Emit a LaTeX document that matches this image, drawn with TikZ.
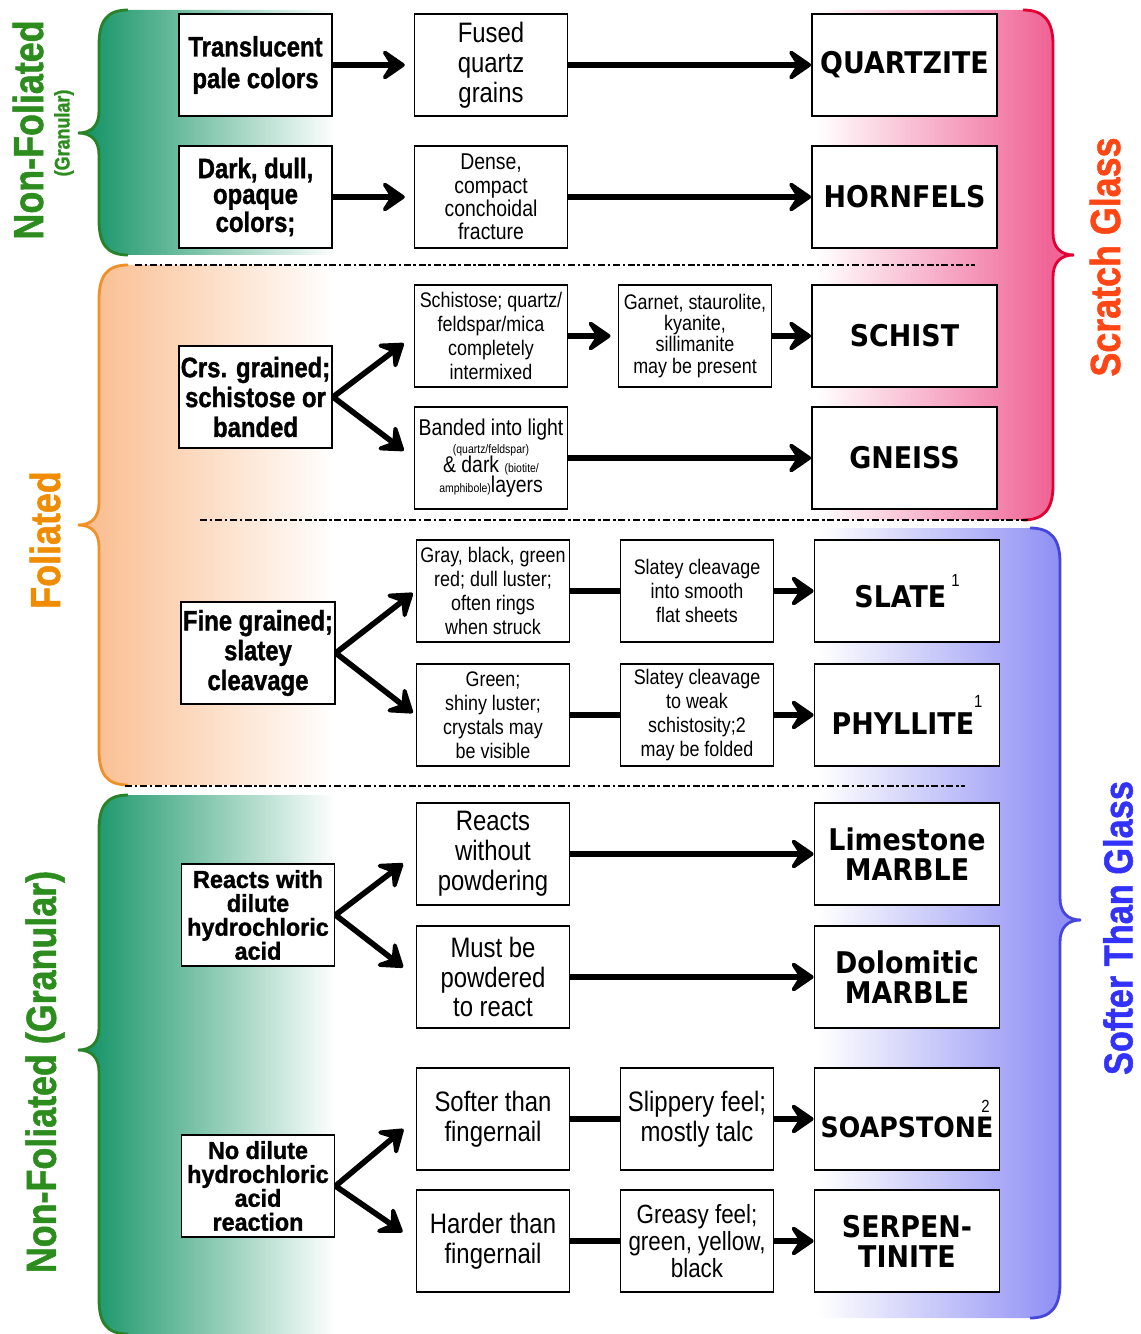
\documentclass[tikz,border=0pt]{standalone}
\usepackage{fontspec}
\setmainfont{Liberation Sans}
\newfontfamily\narrowfont{Liberation Sans}[FakeStretch=0.85]
\newfontfamily\heavyfont{Liberation Sans}[FakeStretch=0.85, FakeBold=1.2]
\newfontfamily\wideheavyfont{Liberation Sans}[FakeStretch=0.95, FakeBold=1.2]
\newfontfamily\rockfont{DejaVu Sans}[FakeStretch=0.9]
\usetikzlibrary{arrows.meta, positioning}
\definecolor{nfgreen}{RGB}{25,150,105}
\definecolor{nfdark}{RGB}{40,130,40}
\definecolor{nftext}{RGB}{45,140,30}
\definecolor{folorange}{RGB}{250,190,145}
\definecolor{foldark}{RGB}{240,145,40}
\definecolor{foltext}{RGB}{240,140,0}
\definecolor{scpink}{RGB}{240,100,150}
\definecolor{scdark}{RGB}{225,0,50}
\definecolor{sctext}{RGB}{255,70,20}
\definecolor{sfblue}{RGB}{145,145,245}
\definecolor{sfdark}{RGB}{70,70,220}
\definecolor{sftext}{RGB}{50,50,250}

% fades that reach white (or colour) before the panel edge
\pgfdeclarehorizontalshading{nfshade}{100bp}{color(0bp)=(nfgreen); color(27bp)=(nfgreen); color(65bp)=(white); color(100bp)=(white)}
\pgfdeclarehorizontalshading{folshade}{100bp}{color(0bp)=(folorange); color(27bp)=(folorange); color(65bp)=(white); color(100bp)=(white)}
\pgfdeclarehorizontalshading{scshade}{100bp}{color(0bp)=(white); color(34bp)=(white); color(71bp)=(scpink); color(100bp)=(scpink)}
\pgfdeclarehorizontalshading{sfshade}{100bp}{color(0bp)=(white); color(34bp)=(white); color(71bp)=(sfblue); color(100bp)=(sfblue)}

% brace-shaped shaded panels: shading, edge colour, top, tip, bottom
\newcommand{\leftpanel}[5]{%
  \shade[shading=#1] (400,#3) -- (128,#3) .. controls (106,#3) and (99,#3+12) .. (99,#3+35) -- (99,#4-22) .. controls (99,#4-8) and (92,#4) .. (78,#4) .. controls (92,#4) and (99,#4+8) .. (99,#4+22) -- (99,#5-35) .. controls (99,#5-12) and (106,#5) .. (128,#5) -- (400,#5) -- cycle;
  \draw[#2, line width=1.6pt] (128,#3) .. controls (106,#3) and (99,#3+12) .. (99,#3+35) -- (99,#4-22) .. controls (99,#4-8) and (92,#4) .. (78,#4) .. controls (92,#4) and (99,#4+8) .. (99,#4+22) -- (99,#5-35) .. controls (99,#5-12) and (106,#5) .. (128,#5);}
% same on the right: shading, edge colour, top, tip, bottom, brace x
\newcommand{\rightpanel}[6]{%
  \shade[shading=#1] (760,#3) -- (#6-30,#3) .. controls (#6-8,#3) and (#6,#3+12) .. (#6,#3+35) -- (#6,#4-22) .. controls (#6,#4-8) and (#6+7,#4) .. (#6+21,#4) .. controls (#6+7,#4) and (#6,#4+8) .. (#6,#4+22) -- (#6,#5-35) .. controls (#6,#5-12) and (#6-8,#5) .. (#6-30,#5) -- (760,#5) -- cycle;
  \draw[#2, line width=1.6pt] (#6-30,#3) .. controls (#6-8,#3) and (#6,#3+12) .. (#6,#3+35) -- (#6,#4-22) .. controls (#6,#4-8) and (#6+7,#4) .. (#6+21,#4) .. controls (#6+7,#4) and (#6,#4+8) .. (#6,#4+22) -- (#6,#5-35) .. controls (#6,#5-12) and (#6-8,#5) .. (#6-30,#5);}
\newcommand{\supnum}[2]{\raisebox{#1}{\narrowfont\mdseries\fontsize{10}{10}\selectfont #2}}

\begin{document}
\begin{tikzpicture}[x=0.02cm, y=-0.02cm,
    crit/.style={draw, line width=1.1pt, fill=white, minimum width=3.06cm, minimum height=2.04cm, inner sep=1pt, align=center, font=\heavyfont\bfseries\fontsize{16}{17}\selectfont},
    tightcrit/.style={crit, font=\wideheavyfont\bfseries\fontsize{14}{13.6}\selectfont},
    desc/.style={draw, line width=1.1pt, fill=white, minimum width=3.06cm, minimum height=2.04cm, inner sep=1pt, align=center, font=\narrowfont\fontsize{12}{13.6}\selectfont},
    bigtext/.style={font=\narrowfont\fontsize{16}{17}\selectfont},
    rock/.style={draw, line width=1.1pt, fill=white, minimum width=3.7cm, minimum height=2.04cm, inner sep=1pt, align=center, font=\rockfont\bfseries\fontsize{17}{17}\selectfont},
    side/.style={rotate=90, inner sep=0pt, font=\heavyfont\bfseries\fontsize{24}{24}\selectfont},
    arr/.style={line width=3.2pt, -{Stealth[length=16pt, width=22pt, inset=7pt, round]}},
    link/.style={line width=3.2pt},
    sep/.style={line width=1.4pt, dash pattern=on 4pt off 1.5pt on 1.5pt off 1.5pt}]
    \useasboundingbox (0,0) rectangle (1140,1334);

    % Shaded panels
    \leftpanel{nfshade}{nfdark}{10}{133}{255}
    \leftpanel{folshade}{foldark}{265}{525}{785}
    \leftpanel{nfshade}{nfdark}{795}{1050}{1334}
    \rightpanel{scshade}{scdark}{10}{255}{520}{1053}
    \rightpanel{sfshade}{sfdark}{528}{920}{1318}{1060}

    % Separators
    \draw[sep] (135,265) -- (975,265);
    \draw[sep] (200,520) -- (1030,520);
    \draw[sep] (125,786) -- (965,786);

    % Side labels
    \node[side, nftext] (nonfol) at (28,130) {Non-Foliated};
    \node[side, nftext, font=\heavyfont\bfseries\fontsize{12}{12}\selectfont] (granular) at (64,133) {(Granular)};
    \node[side, foltext] (foliated) at (45,540) {Foliated};
    \node[side, nftext] (nonfolgran) at (45,1072) {Non-Foliated (Granular)};
    \node[side, sctext] (scratch) at (1105,257) {Scratch Glass};
    \node[side, sftext, font=\heavyfont\bfseries\fontsize{23}{23}\selectfont] (softer) at (1118,928) {Softer Than Glass};

    % Non-foliated, top
    \node[crit, font=\heavyfont\bfseries\fontsize{16}{18}\selectfont] (transl) at (255.5,65) {Translucent\\pale colors};
    \node[desc, bigtext] (fused) at (491,65) {Fused\\quartz\\grains};
    \node[rock] (quartzite) at (904.5,65) {QUARTZITE};
    \node[crit, font=\heavyfont\bfseries\fontsize{16}{14.7}\selectfont] (dark) at (255.5,197) {Dark, dull,\\opaque\\colors;};
    \node[desc, font=\narrowfont\fontsize{13}{13.3}\selectfont] (dense) at (491,197) {Dense,\\compact\\conchoidal\\fracture};
    \node[rock] (hornfels) at (904.5,197) {HORNFELS};
    \draw[arr, shorten >=5pt] (transl) -- (fused);
    \draw[arr] (fused) -- (quartzite);
    \draw[arr, shorten >=5pt] (dark) -- (dense);
    \draw[arr] (dense) -- (hornfels);

    % Foliated, coarse
    \node[crit] (coarse) at (255.5,397) {Crs. grained;\\schistose or\\banded};
    \node[desc] (schistose) at (491,336) {Schistose; quartz/\\feldspar/mica\\completely\\intermixed};
    \node[desc, font=\narrowfont\fontsize{12}{12}\selectfont] (garnet) at (695,336) {Garnet, staurolite,\\kyanite,\\sillimanite\\may be present};
    \node[rock] (schist) at (904.5,336) {SCHIST};
    \node[desc, font=\narrowfont\fontsize{13}{13}\selectfont] (banded) at (491,458) {Banded into light\\[-3pt]{\fontsize{7}{7}\selectfont(quartz/feldspar)}\\[-2pt]\& dark {\fontsize{7}{7}\selectfont(biotite/}\\[-2pt]{\fontsize{7}{7}\selectfont amphibole)}layers};
    \node[rock] (gneiss) at (904.5,458) {GNEISS};
    \draw[arr, shorten >=7pt] (coarse.east) -- (schistose.west);
    \draw[arr, shorten >=7pt] (coarse.east) -- (banded.west);
    \draw[arr, shorten >=4pt] (schistose) -- (garnet);
    \draw[arr] (garnet) -- (schist);
    \draw[arr] (banded) -- (gneiss);

    % Foliated, fine
    \node[crit] (fine) at (258,653) {Fine grained;\\slatey\\cleavage};
    \node[desc] (gray) at (493,591) {Gray, black, green\\red; dull luster;\\often rings\\when struck};
    \node[desc] (smooth) at (697,591) {Slatey cleavage\\into smooth\\flat sheets};
    \node[rock] (slate) at (907,591) {SLATE\,\supnum{1.3ex}{1}};
    \node[desc] (shiny) at (493,715) {Green;\\shiny luster;\\crystals may\\be visible};
    \node[desc] (weak) at (697,715) {Slatey cleavage\\to weak\\schistosity;2\\may be folded};
    \node[rock] (phyllite) at (907,715) {PHYLLITE\supnum{1.7ex}{1}};
    \draw[arr, shorten >=2pt] (fine.east) -- (gray.west);
    \draw[arr, shorten >=2pt] (fine.east) -- (shiny.west);
    \draw[link] (gray) -- (smooth);
    \draw[arr] (smooth) -- (slate);
    \draw[link] (shiny) -- (weak);
    \draw[arr] (weak) -- (phyllite);

    % Non-foliated, bottom
    \node[tightcrit] (reacts) at (258,915) {Reacts with\\dilute\\hydrochloric\\acid};
    \node[desc, bigtext] (nopowder) at (493,854) {Reacts\\without\\powdering};
    \node[rock] (limestone) at (907,854) {Limestone\\MARBLE};
    \node[desc, bigtext] (powder) at (493,977) {Must be\\powdered\\to react};
    \node[rock] (dolomitic) at (907,977) {Dolomitic\\MARBLE};
    \draw[arr, shorten >=9pt] (reacts.east) -- (nopowder.west);
    \draw[arr, shorten >=9pt] (reacts.east) -- (powder.west);
    \draw[arr] (nopowder) -- (limestone);
    \draw[arr] (powder) -- (dolomitic);

    \node[tightcrit] (noacid) at (258,1186) {No dilute\\hydrochloric\\acid\\reaction};
    \node[desc, bigtext] (softnail) at (493,1119) {Softer than\\fingernail};
    \node[desc, bigtext] (slippery) at (697,1119) {Slippery feel;\\mostly talc};
    \node[rock, font=\rockfont\bfseries\fontsize{16}{16}\selectfont] (soapstone) at (907,1119) {SOAPSTON\rlap{\kern3pt\supnum{14pt}{2}}E};
    \node[desc, bigtext] (hardnail) at (493,1241) {Harder than\\fingernail};
    \node[desc, font=\narrowfont\fontsize{15}{15.3}\selectfont] (greasy) at (697,1241) {Greasy feel;\\green, yellow,\\black};
    \node[rock] (serpentinite) at (907,1241) {SERPEN-\\TINITE};
    \draw[arr, shorten >=9pt] (noacid.east) -- (softnail.west);
    \draw[arr, shorten >=9pt] (noacid.east) -- (hardnail.west);
    \draw[link] (softnail) -- (slippery);
    \draw[arr] (slippery) -- (soapstone);
    \draw[link] (hardnail) -- (greasy);
    \draw[arr] (greasy) -- (serpentinite);
\end{tikzpicture}
\end{document}
